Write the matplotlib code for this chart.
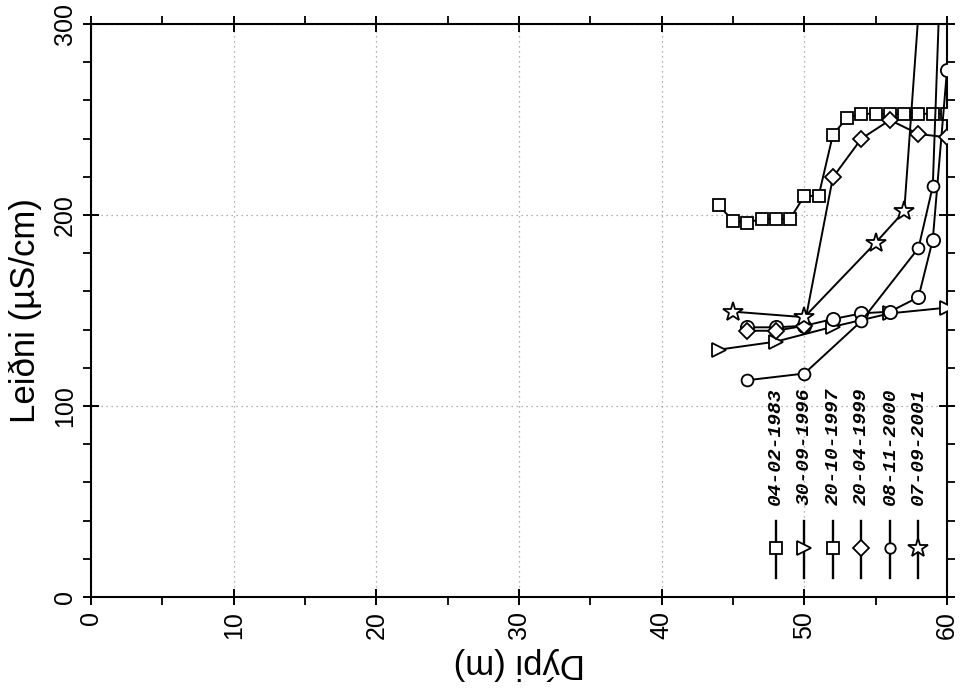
import matplotlib
matplotlib.use("Agg")
import matplotlib.pyplot as plt
from matplotlib.ticker import MultipleLocator

# Conductivity profiles per measurement date
dates = ["04-02-1983", "30-09-1996", "20-10-1997", "20-04-1999", "08-11-2000", "07-09-2001"]

depth_1983 = [44, 45, 46, 47, 48, 49, 50, 51, 52, 53, 54, 55, 56, 57, 58, 59, 60]
cond_1983 = [205, 197, 196, 198, 198, 198, 210, 210, 242, 251, 253, 253, 253, 253, 253, 253, 253]

depth_1996 = [44, 48, 52, 56, 60]
cond_1996 = [129.5, 133.7, 141.5, 148.5, 151.5]

depth_1997 = [46, 48, 50, 52, 54, 56, 58, 59, 60]
cond_1997 = [141.2, 141.2, 142, 145.5, 148.5, 149.4, 157, 187, 276]

depth_1999 = [46, 48, 50, 52, 54, 56, 58, 60]
cond_1999 = [139.4, 139.4, 142, 219.7, 240, 249.7, 242.4, 240.7]

depth_2000 = [46, 50, 54, 58, 59, 60]
cond_2000 = [113.5, 117, 144.5, 182.7, 215, 425]

depth_2001 = [45, 50, 55, 57, 58]
cond_2001 = [149.4, 146.5, 185.5, 202, 306]

series = [
    (depth_1983, cond_1983, "s", 8.5),
    (depth_1996, cond_1996, ">", 9.5),
    (depth_1997, cond_1997, "o", 9.5),
    (depth_1999, cond_1999, "D", 8.5),
    (depth_2000, cond_2000, "o", 8.5),
    (depth_2001, cond_2001, "*", 15),
]

# Key glyphs drawn inside the plot, one vertical stroke per date
key_depth = [48, 50, 52, 54, 56, 58]
key_markers = ["s", ">", "s", "D", "o", "*"]
key_sizes = [8.5, 9.5, 8.5, 8.5, 7.5, 15]

plt.rcParams["font.family"] = ["Liberation Sans", "DejaVu Sans"]

fig = plt.figure(figsize=(9.64, 6.98), dpi=100)
ax = fig.add_axes([0.0944, 0.1447, 0.888, 0.8209])

for x, y, m, ms in series:
    ax.plot(x, y, color="black", lw=1.4, marker=m, ms=ms,
            mfc="white", mec="black", mew=1.3, zorder=3)

for xk, m, ms, label in zip(key_depth, key_markers, key_sizes, dates):
    ax.plot([xk, xk], [10, 40], color="black", lw=1.7, zorder=3)
    ax.plot([xk], [25.5], marker=m, ms=ms, mfc="white", mec="black",
            mew=1.3, zorder=4)
    ax.text(xk, 48, label, rotation=90, ha="center", va="bottom",
            family="Liberation Mono", weight="bold", style="italic",
            fontsize=14, zorder=4)

ax.set_xlim(0, 60)
ax.set_ylim(0, 300)
ax.xaxis.set_major_locator(MultipleLocator(10))
ax.xaxis.set_minor_locator(MultipleLocator(5))
ax.yaxis.set_major_locator(MultipleLocator(100))
ax.yaxis.set_minor_locator(MultipleLocator(20))

ax.grid(True, which="major", color="#999999", ls=(0, (1, 3)), lw=0.9)

for s in ax.spines.values():
    s.set_linewidth(1.5)

ax.tick_params(which="major", direction="inout", length=12, width=1.4,
               top=True, right=True, labelsize=18, pad=4)
ax.tick_params(which="minor", direction="out", length=6, width=1.3,
               top=True, right=True)

for lab in ax.get_xticklabels():
    lab.set_rotation(90)
for lab in ax.get_yticklabels():
    lab.set_rotation(90)
    lab.set_verticalalignment("center")

ax.set_xlabel("Dýpi (m)", fontsize=25, rotation=180, labelpad=6)
ax.set_ylabel("Leiðni (µS/cm)", fontsize=25, labelpad=8)

fig.savefig("out.png", dpi=100)
